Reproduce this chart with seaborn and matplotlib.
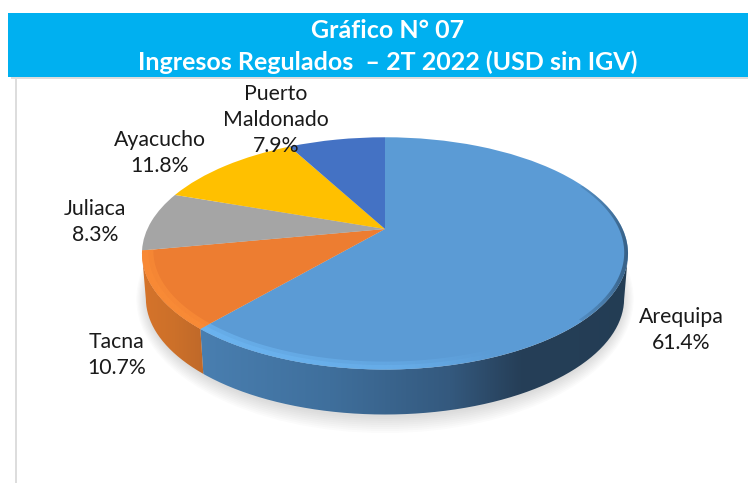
import numpy as np
import seaborn as sns
import matplotlib
matplotlib.use("Agg")
import matplotlib.pyplot as plt
from matplotlib.path import Path
from matplotlib.patches import Ellipse, Rectangle
from matplotlib.transforms import Transform
from matplotlib.colors import to_rgb

cities = ["Arequipa", "Tacna", "Juliaca", "Ayacucho", "Puerto\nMaldonado"]
shares = [61.4, 10.7, 8.3, 11.8, 7.9]
colors = ["#5B9BD5", "#ED7D31", "#A5A5A5", "#FFC000", "#4472C4"]
title_lines = ["Gráfico N° 07", "Ingresos Regulados  – 2T 2022 (USD sin IGV)"]

sns.set_theme(style="white")
plt.rcParams["font.family"] = ["Lato", "DejaVu Sans"]
palette = sns.color_palette(colors)

W, H = 748, 483
CX, CY, A, B, K = 385.0, 229.0, 111.0, 237.6, 0.21
DEPTH, SHRINK = 45.0, 0.984


class Perspective(Transform):
    input_dims = output_dims = 2
    has_inverse = False

    def transform_non_affine(self, values):
        v = np.asarray(values, float)
        d = 1 + K * v[:, 1]
        return np.column_stack([CX + B * v[:, 0] / d, CY - A * v[:, 1] / d])

    def transform_path_non_affine(self, path):
        return Path(self.transform_non_affine(path.vertices), path.codes)


persp = Perspective()


def rim(t, scale=1.0):
    return persp.transform_non_affine(np.column_stack([scale * np.cos(t), scale * np.sin(t)]))


fig = plt.figure(figsize=(W / 100, H / 100), dpi=100)
ax = fig.add_axes([0, 0, 1, 1])
wedges, _ = ax.pie(shares, colors=palette, startangle=90, counterclock=False,
                   wedgeprops=dict(linewidth=0, zorder=5))
ax.set_aspect("auto")


def gradient(poly, xs, rgb_stops, alpha_stops=None, zorder=4):
    """Horizontal colour gradient clipped to a polygon."""
    px = np.linspace(xs[0], xs[-1], 300)
    rgb = np.column_stack([np.interp(px, xs, [c[i] for c in rgb_stops]) for i in range(3)])
    a = np.ones_like(px) if alpha_stops is None else np.interp(px, xs, alpha_stops)
    img = np.column_stack([rgb, a])[None, :, :]
    im = ax.imshow(img, extent=[xs[0], xs[-1], 500, 0], aspect="auto",
                   interpolation="bilinear", zorder=zorder)
    im.set_clip_path(Path(poly, closed=False), transform=ax.transData)


# soft ground shadow
for grow, alpha in zip(np.linspace(16, 0, 9), [0.03] * 9):
    ax.add_patch(Ellipse((CX, 299), 2 * (239 + grow * 0.6), 2 * (118 + grow), lw=0,
                         fc="#808080", alpha=alpha, zorder=1))

# side wall of the front slices
wall_stops = {
    0: ([190, 330, 450, 520, 640],
        [to_rgb(c) for c in ["#4A80B2", "#3F6F9C", "#34597E", "#263F58", "#233D54"]]),
    1: ([130, 175, 215],
        [to_rgb(c) for c in ["#D9752C", "#CC7029", "#BA662A"]]),
}
for i, (xs, stops) in wall_stops.items():
    w = wedges[i]
    t = np.radians(np.linspace(max(w.theta1, -167.5), min(w.theta2, -12.5), 120))
    top = rim(t)
    bot = top * [SHRINK, 1] + [CX * (1 - SHRINK), DEPTH]
    gradient(np.vstack([top, bot[::-1], top[:1]]), xs, stops, zorder=3)

# top surface: the pie wedges in perspective
for w in wedges:
    w.set_transform(persp + ax.transData)
    w.set_clip_on(False)

# bevel highlights and dark edge
for i, light, xs, al in [
    (0, "#6DB6F2", [190, 260, 400, 500], [.7, .6, .4, 0]),
    (1, "#FA8C37", [130, 170, 215], [.6, .7, .7]),
]:
    w = wedges[i]
    t = np.radians(np.linspace(max(w.theta1, -172), min(w.theta2, -12), 120))
    for scale in (0.955, 0.975):
        poly = np.vstack([rim(t), rim(t[::-1], scale), rim(t[:1])])
        gradient(poly, xs, [to_rgb(light)] * len(xs), al, zorder=6)
t = np.radians(np.linspace(-45, 25, 100))
poly = np.vstack([rim(t), rim(t[::-1], 0.985), rim(t[:1])])
gradient(poly, [560, 605, 640], [to_rgb("#2A4A68")] * 3, [0, .4, .9], zorder=6)

# frame and header
ax.add_patch(Rectangle((11, 77), 737, 2, fc="#DDDDDD", lw=0, zorder=0))
ax.add_patch(Rectangle((15, 77), 2, 406, fc="#DDDDDD", lw=0, zorder=0))
ax.add_patch(Rectangle((8, 13), 740, 64, fc="#00B0F0", lw=0, zorder=7))
ax.text(388, 31, title_lines[0], color="white", fontsize=18, fontweight="bold",
        ha="center", va="center", zorder=8)
ax.text(388, 62, title_lines[1], color="white", fontsize=18, fontweight="bold",
        ha="center", va="center", zorder=8)

# data labels
label_xy = [(681, 330), (117, 355), (95, 222), (160, 153), (276, 120)]
for name, val, (x, y) in zip(cities, shares, label_xy):
    ax.text(x, y, f"{name}\n{val:.1f}%", ha="center", va="center", fontsize=15.3,
            color="#1a1a1a", linespacing=1.4, zorder=9)

ax.set_xlim(0, W)
ax.set_ylim(H, 0)
ax.axis("off")
fig.savefig("out.png", dpi=100, facecolor="white")
